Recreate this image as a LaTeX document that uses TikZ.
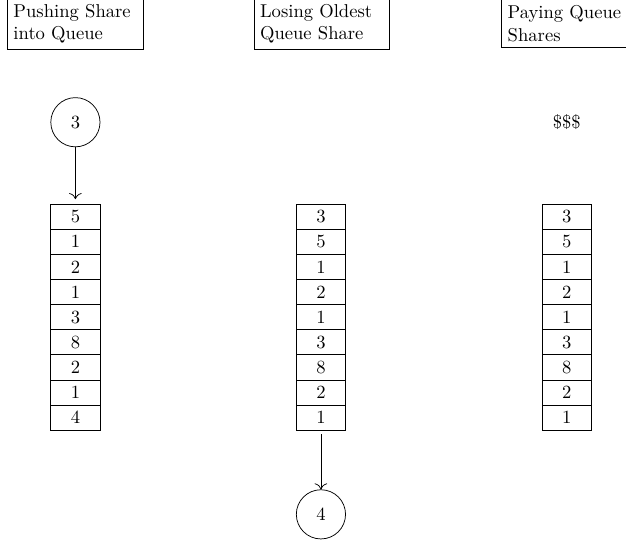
\documentclass[tikz,border=0pt]{standalone}
\usetikzlibrary{arrows.meta}
\begin{document}
\begin{tikzpicture}
    % Define styles for queues
    \tikzstyle{cell}=[rectangle, draw, minimum width=0.93cm, minimum height=0.4745cm, inner sep=0pt]
    \tikzstyle{share}=[circle, draw, minimum size=0.93cm, inner sep=0pt]
    \tikzstyle{title}=[rectangle, draw, text width=2.33cm, align=left]
    \tikzstyle{move}=[-{To[scale=1.3]}]

    \clip (0,0) rectangle (11.83,-10.28);

    % Titles
    \node[title] (t1) at (1.42,-0.445) {Pushing Share into Queue};
    \node[title] (t2) at (6.08,-0.445) {Losing Oldest Queue Share};
    \node[title] (t3) at (10.76,-0.445) {Paying Queue Shares};

    % Queue (push)
    \foreach \v [count=\i] in {5,1,2,1,3,8,2,1,4}
      \node[cell] (push\i) at (1.425,{-3.62-0.4745*\i}) {\v};
    \node[share] (in) at (1.425,-2.31) {3};
    \draw[move, shorten >=2.5pt] (in) -- (push1);

    % Queue (lose)
    \foreach \v [count=\i] in {3,5,1,2,1,3,8,2,1}
      \node[cell] (lose\i) at (6.065,{-3.62-0.4745*\i}) {\v};
    \node[share] (out) at (6.065,-9.72) {4};
    \draw[move, shorten <=2pt] (lose9) -- (out);

    % Queue (pay)
    \foreach \v [count=\i] in {3,5,1,2,1,3,8,2,1}
      \node[cell] (pay\i) at (10.71,{-3.62-0.4745*\i}) {\v};
    \node (cash) at (10.71,-2.31) {\$\$\$};

\end{tikzpicture}
\end{document}
